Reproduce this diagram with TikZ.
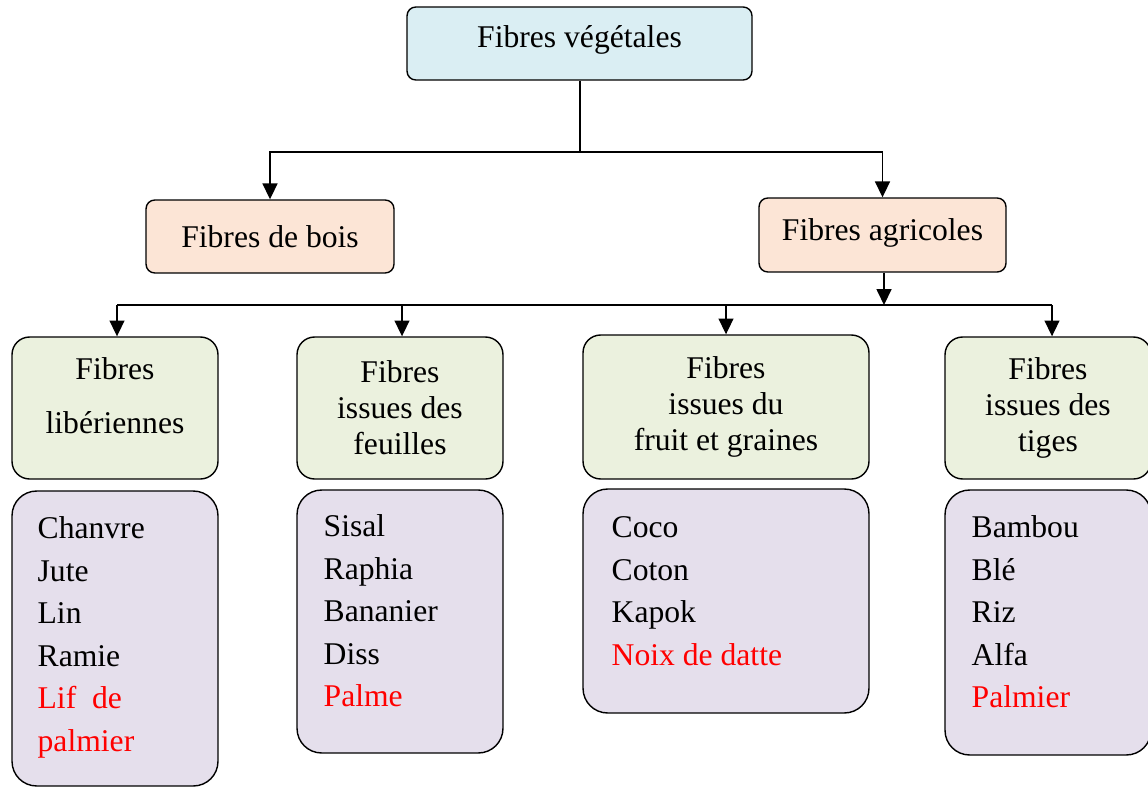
\documentclass[tikz,border=0pt]{standalone}
\usepackage{fontspec}
\setmainfont{Liberation Serif}
\usepackage{tikz}
\definecolor{ciel}{RGB}{218,238,243}
\definecolor{peche}{RGB}{252,229,214}
\definecolor{vert}{RGB}{235,241,222}
\definecolor{mauve}{RGB}{229,223,236}
\definecolor{rouge}{RGB}{255,0,0}
\usetikzlibrary{arrows.meta, positioning}

\begin{document}
\begin{tikzpicture}[x=0.02cm, y=-0.02cm, >={Triangle[length=9pt, width=8.5pt]},
    font=\fontsize{18}{20.5}\selectfont,
    boite/.style={draw, line width=0.8pt, rounded corners=5pt, align=center, inner sep=2pt},
    famille/.style={boite, fill=vert, minimum height=2.84cm, rounded corners=10pt},
    liste/.style={draw, line width=0.8pt, fill=mauve, rounded corners=14pt},
    texteliste/.style={align=left, anchor=north west, inner sep=0pt,
        font=\fontsize{18}{24.2}\selectfont}]
    \useasboundingbox (0,0) rectangle (1148,787);
    % Niveau 1
    \node[boite, fill=ciel, minimum width=6.9cm, minimum height=1.46cm, text depth=8pt] (veg) at (579.5,43.5) {Fibres végétales};
    % Niveau 2
    \node[boite, fill=peche, minimum width=4.96cm, minimum height=1.46cm] (bois) at (270,236.5) {Fibres de bois};
    \node[boite, fill=peche, minimum width=4.94cm, minimum height=1.48cm, text depth=6pt] (agri) at (882.5,235) {Fibres agricoles};
    \coordinate (j1) at (580,152);
    \draw[line width=0.8pt] (veg.south -| j1) -- (j1);
    \draw[->, line width=0.8pt] (j1) -| (bois.north);
    \draw[->, line width=0.8pt] (j1) -| (agri.north);
    % Niveau 3
    \node[famille, minimum width=4.12cm] (g1) at (115,408) {Fibres\\[10pt]\raisebox{0pt}[0pt][0pt]{libériennes}\rule[-14pt]{0pt}{0pt}};
    \node[famille, minimum width=4.12cm] (g2) at (400,408) {Fibres\\issues des\\feuilles};
    \node[famille, minimum width=5.72cm, minimum height=2.88cm] (g3) at (726,407) {Fibres\\issues du\\fruit et graines};
    \node[famille, minimum width=4.12cm] (g4) at (1048,408) {Fibres\\issues des\\tiges};
    \coordinate (bus) at (884,305);
    \draw[->, line width=0.8pt] (agri.south -| bus) -- (bus);
    \draw[line width=0.8pt] ([xshift=0.04cm]g1.north |- bus) -- ([xshift=0.08cm]g4.north |- bus);
    \foreach \g/\dx in {g1/0.04,g2/0.04,g3/0,g4/0.08}
        \draw[->, line width=0.8pt] ([xshift=\dx cm]\g.north |- bus) -- ([xshift=\dx cm]\g.north);
    % Listes
    \node[liste, minimum width=4.12cm, minimum height=5.9cm] (p1) at (115,638.5) {};
    \node[liste, minimum width=4.12cm, minimum height=5.26cm] (p2) at (400,621.5) {};
    \node[liste, minimum width=5.72cm, minimum height=4.48cm] (p3) at (726,601) {};
    \node[liste, minimum width=4.12cm, minimum height=5.3cm] (p4) at (1048,622.5) {};
    \node[texteliste] (l1) at ([shift={(26,26)}]p1.north west) {Chanvre\\Jute\\Lin\\Ramie\\\textcolor{rouge}{Lif\ \ de}\\\textcolor{rouge}{palmier}};
    \node[texteliste] (l2) at ([shift={(27,25)}]p2.north west) {Sisal\\Raphia\\Bananier\\Diss\\\textcolor{rouge}{Palme}};
    \node[texteliste] (l3) at ([shift={(29,28)}]p3.north west) {Coco\\Coton\\Kapok\\\textcolor{rouge}{Noix de datte}};
    \node[texteliste] (l4) at ([shift={(27,26)}]p4.north west) {Bambou\\Blé\\Riz\\Alfa\\\textcolor{rouge}{Palmier}};
\end{tikzpicture}
\end{document}
